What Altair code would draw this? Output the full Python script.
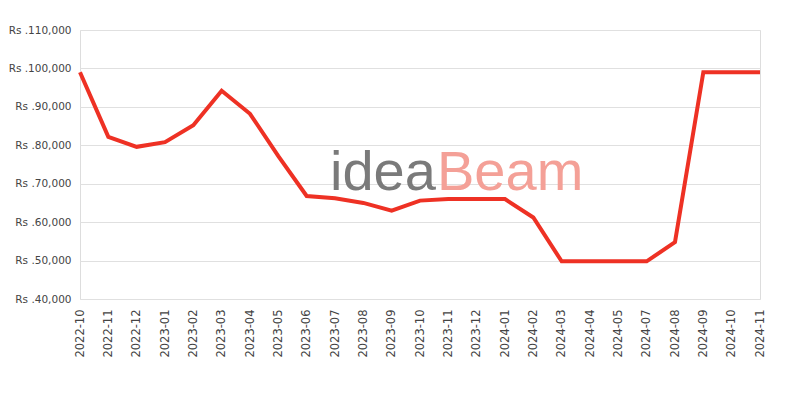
import altair as alt
import pandas as pd

months = ["2022-10", "2022-11", "2022-12", "2023-01", "2023-02", "2023-03", "2023-04",
          "2023-05", "2023-06", "2023-07", "2023-08", "2023-09", "2023-10", "2023-11",
          "2023-12", "2024-01", "2024-02", "2024-03", "2024-04", "2024-05", "2024-07",
          "2024-08", "2024-09", "2024-10", "2024-11"]
prices = [99000, 82200, 79600, 80800, 85200, 94200, 88200,
          77200, 66800, 66200, 65000, 63000, 65600, 66000,
          66000, 66000, 61200, 49800, 49800, 49800, 49800,
          54800, 99000, 99000, 99000]

df = pd.DataFrame({"month": months, "price": prices})

FONT = "DejaVu Sans"

x = alt.X("month:N", sort=months, title=None,
          scale=alt.Scale(type="point", padding=0),
          axis=alt.Axis(labelAngle=270, labelAlign="right", labelBaseline="middle",
                        labelPadding=10, ticks=False, grid=False, domain=False,
                        labelFontSize=11.5, labelColor="#444", labelFont=FONT))
y = alt.Y("price:Q", title=None,
          scale=alt.Scale(domain=[40000, 110000], nice=False, zero=False),
          axis=alt.Axis(values=[40000, 50000, 60000, 70000, 80000, 90000, 100000, 110000],
                        labelExpr="'Rs .' + format(datum.value, ',')",
                        ticks=False, domain=False, gridColor="#e0e0e0",
                        labelPadding=9, labelFontSize=10.5, labelColor="#444",
                        labelFont=FONT))

wm_idea = alt.Chart(pd.DataFrame({"t": ["idea"]})).mark_text(
    fontSize=56, font="Liberation Sans", color="#7a7a7a", align="left",
    baseline="alphabetic"
).encode(text="t:N", x=alt.value(250), y=alt.value(160))

wm_beam = alt.Chart(pd.DataFrame({"t": ["Beam"]})).mark_text(
    fontSize=56, font="Liberation Sans", color="#f4a097", align="left",
    baseline="alphabetic"
).encode(text="t:N", x=alt.value(357), y=alt.value(160))

line = alt.Chart(df).mark_line(color="#ee3124", strokeWidth=4).encode(x=x, y=y)

chart = alt.layer(wm_idea, wm_beam, line).properties(
    width=680, height=269,
    autosize=alt.AutoSizeParams(type="none"),
    padding={"left": 72, "top": 22, "right": 32, "bottom": 80},
).configure_view(stroke="#dddddd", strokeWidth=1)

chart.save("out.html", embed_options={"renderer": "svg", "actions": False})
